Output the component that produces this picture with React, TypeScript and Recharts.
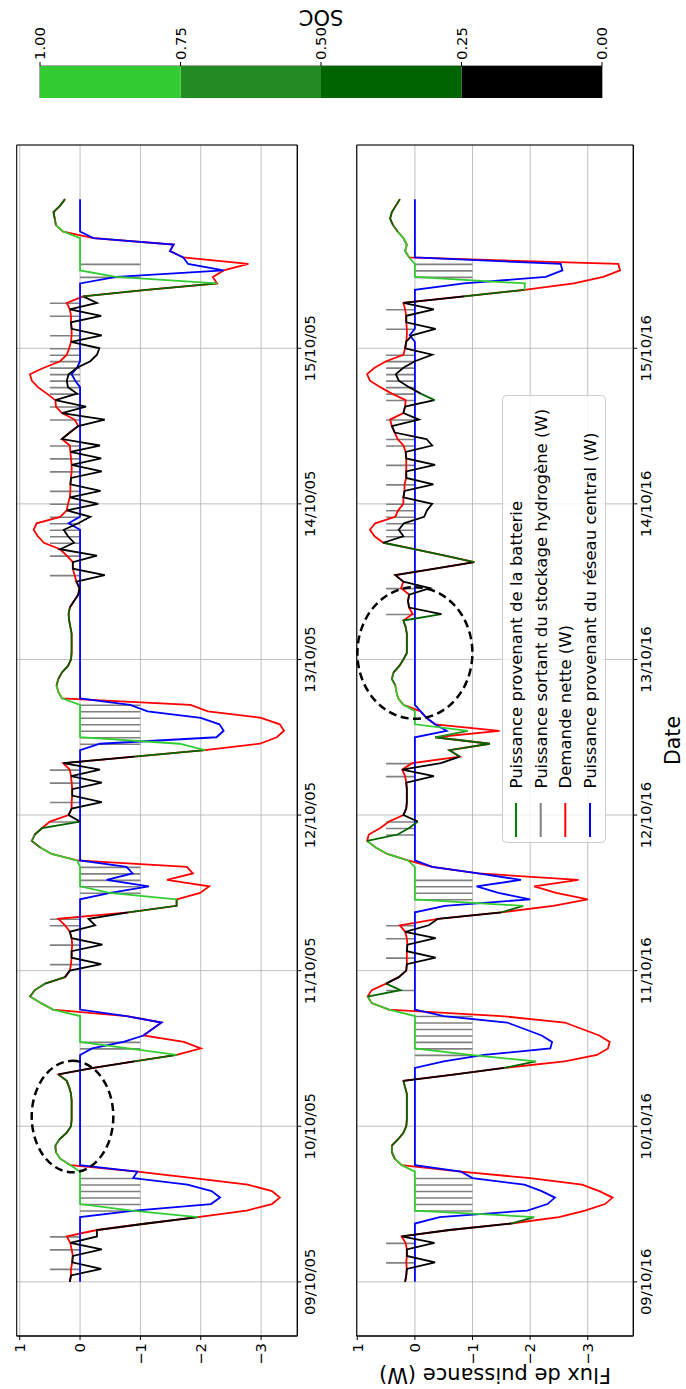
import React from "react";
import {
  Bar,
  BarChart,
  CartesianGrid,
  ComposedChart,
  Label,
  Legend,
  Line,
  ReferenceArea,
  ReferenceDot,
  XAxis,
  YAxis,
} from "recharts";

// Tick labels
const DATES_05 = ["09/10/05", "10/10/05", "11/10/05", "12/10/05", "13/10/05", "14/10/05", "15/10/05"];
const DATES_16 = ["09/10/16", "10/10/16", "11/10/16", "12/10/16", "13/10/16", "14/10/16", "15/10/16"];
const DAY_TICKS = [0, 24, 48, 72, 96, 120, 144];
const POWER_TICKS = [-3, -2, -1, 0, 1];
const SOC_TICKS = [0, 0.25, 0.5, 0.75, 1];

// Legend
const LEGEND_LABELS = [
  "Puissance provenant de la batterie",
  "Puissance sortant du stockage hydrogène (W)",
  "Demande nette (W)",
  "Puissance provenant du réseau central (W)",
];
const LEGEND_COLORS = ["#008000", "#808080", "#ff0000", "#0000ff"];

// SOC classes: <0.25, <0.5, <0.75, >=0.75
const SOC_COLORS = ["#000000", "#006400", "#228B22", "#32CD32"];
const SOC_BANDS = [0.25, 0.25, 0.25, 0.25];

// ---- 2005, hourly from 09/10 00:00 (one day per line) ----
const RED_05 = [
  0.17, 0.15, 0.15, 0.13, 0.12, 0.14, 0.16, 0.22, -0.28, -1.1, -1.95, -2.76, -3.18, -3.31, -3.18, -2.78, -1.88, -0.95, 0.16, 0.33, 0.4, 0.41, 0.34, 0.22,
  0.15, 0.14, 0.14, 0.14, 0.14, 0.15, 0.18, 0.22, 0.36, -0.22, -0.9, -1.6, -2.0, -1.72, -1.05, -1.2, -1.35, -0.77, 0.45, 0.65, 0.83, 0.75, 0.58, 0.25,
  0.17, 0.15, 0.14, 0.14, 0.13, 0.14, 0.17, 0.25, 0.36, -0.8, -1.6, -1.6, -1.99, -2.14, -1.44, -1.87, -1.77, 0.05, 0.47, 0.66, 0.8, 0.75, 0.63, 0.5,
  0.19, 0.14, 0.14, 0.13, 0.13, 0.14, 0.15, 0.17, 0.28, -0.9, -2.07, -2.98, -3.26, -3.38, -3.31, -3.0, -2.12, -1.83, 0.3, 0.36, 0.39, 0.36, 0.3, 0.2,
  0.15, 0.14, 0.14, 0.14, 0.14, 0.16, 0.18, 0.19, 0.17, 0.1, 0.03, 0.01, 0.06, 0.09, 0.12, 0.12, 0.22, 0.33, 0.6, 0.7, 0.77, 0.72, 0.33, 0.22,
  0.2, 0.17, 0.16, 0.16, 0.15, 0.14, 0.14, 0.15, 0.16, 0.17, 0.3, 0.17, 0.03, 0.09, 0.3, 0.4, 0.41, 0.55, 0.7, 0.8, 0.83, 0.6, 0.33, 0.22,
  0.18, 0.15, 0.14, 0.14, 0.15, 0.15, 0.17, 0.22, -0.05, -1.1, -2.27, -2.2, -2.38, -2.79, -1.71, -1.49, -1.55, -0.22, 0.28, 0.4, 0.42, 0.44, 0.33, 0.25,
];
const BLUE_05 = [
  0, 0, 0, 0, 0, 0, 0, 0, 0, 0, 0, -0.9, -2.17, -2.32, -2.18, -1.78, -0.88, -0.95, 0, 0, 0, 0, 0, 0,
  0, 0, 0, 0, 0, 0, 0, 0, 0, 0, 0, 0, -0.2, -0.72, -1.05, -1.2, -1.35, -0.77, 0, 0, 0, 0, 0, 0,
  0, 0, 0, 0, 0, 0, 0, 0, 0, 0, 0, 0, -0.5, -1.14, -0.44, -0.87, -0.77, 0, 0, 0, 0, 0, 0, 0,
  0, 0, 0, 0, 0, 0, 0, 0, 0, 0, 0, -0.33, -2.26, -2.38, -2.31, -2.0, -1.12, -0.83, 0, 0, 0, 0, 0, 0,
  0, 0, 0, 0, 0, 0, 0, 0, 0, 0, 0, 0, 0, 0, 0, 0, 0, 0, 0, 0, 0, 0.19, 0, 0,
  0, 0, 0, 0, 0, 0, 0, 0, 0, 0, 0, 0, 0, 0, 0, 0, 0, 0, 0, 0.08, 0.14, 0.05, 0, 0,
  0, 0, 0, 0, 0, 0, 0, 0, 0, 0, 0, -0.6, -2.38, -1.79, -1.71, -1.49, -1.55, -0.22, 0, 0, 0, 0, 0, 0,
];
const H2_05 = [
  0, 0, 0.5, 0, 0, 0.5, 0, 0.5, 0, 0, 0, -1, -1, -1, -1, -1, -1, 0, 0, 0, 0, 0, 0, 0,
  0, 0, 0, 0, 0, 0, 0, 0, 0, 0, 0, 0, -1, -1, 0, 0, 0, 0, 0, 0, 0, 0, 0, 0,
  0, 0.5, 0, 0, 0.5, 0, 0, 0.5, 0.5, 0, 0, 0, -1, -1, -1, -1, -1, 0, 0, 0, 0, 0, 0, 0.5,
  0, 0, 0.5, 0, 0, 0.5, 0, 0.5, 0, 0, 0, -1, -1, -1, -1, -1, -1, -1, 0, 0, 0, 0, 0, 0,
  0, 0, 0, 0, 0, 0, 0, 0, 0, 0, 0, 0, 0, 0.5, 0, 0, 0.5, 0, 0.5, 0.5, 0.5, 0.5, 0.5, 0,
  0.5, 0, 0.5, 0, 0, 0.5, 0, 0.5, 0, 0.5, 0, 0, 0, 0.5, 0, 0.5, 0, 0.5, 0.5, 0.5, 0.5, 0.5, 0.5, 0.5,
  0.5, 0, 0.5, 0, 0, 0.5, 0, 0.5, 0, 0, 0, -1, 0, -1, 0, 0, 0, 0, 0, 0, 0, 0, 0, 0,
];
const BAT_05 = [
  0.17, 0.15, -0.35, 0.13, 0.12, -0.36, 0.16, -0.28, -0.28, -1.1, -1.95, -0.86, 0, 0, 0, 0, 0, 0, 0.16, 0.33, 0.4, 0.41, 0.34, 0.22,
  0.15, 0.14, 0.14, 0.14, 0.14, 0.15, 0.18, 0.22, 0.36, -0.22, -0.9, -1.6, -0.8, 0, 0, 0, 0, 0, 0.45, 0.65, 0.83, 0.75, 0.58, 0.25,
  0.17, -0.35, 0.14, 0.14, -0.37, 0.14, 0.17, -0.25, -0.14, -0.8, -1.6, -1.6, -0.49, 0, 0, 0, 0, 0.05, 0.47, 0.66, 0.8, 0.75, 0.63, 0,
  0.19, 0.14, -0.36, 0.13, 0.13, -0.36, 0.15, -0.33, 0.28, -0.9, -2.07, -1.65, 0, 0, 0, 0, 0, 0, 0.3, 0.36, 0.39, 0.36, 0.3, 0.2,
  0.15, 0.14, 0.14, 0.14, 0.14, 0.16, 0.18, 0.19, 0.17, 0.1, 0.03, 0.01, 0.06, -0.41, 0.12, 0.12, -0.28, 0.33, 0.1, 0.2, 0.27, 0.03, -0.17, 0.22,
  -0.3, 0.17, -0.34, 0.16, 0.15, -0.36, 0.14, -0.35, 0.16, -0.33, 0.3, 0.17, 0.03, -0.41, 0.3, -0.1, 0.41, 0.05, 0.2, 0.22, 0.19, 0.05, -0.17, -0.28,
  -0.32, 0.15, -0.36, 0.14, 0.15, -0.35, 0.17, -0.28, -0.05, -1.1, -2.27, -0.6, 0, 0, 0, 0, 0, 0, 0.28, 0.4, 0.42, 0.44, 0.33, 0.25,
];
const SOC_05 = [
  0.1, 0.1, 0.1, 0.1, 0.1, 0.1, 0.1, 0.1, 0.1, 0.1, 0.9, 0.9, 0.9, 0.9, 0.9, 0.9, 0.9, 0.9, 0.9, 0.8, 0.65, 0.65, 0.4, 0.4,
  0.4, 0.4, 0.4, 0.4, 0.4, 0.4, 0.4, 0.4, 0.15, 0.15, 0.4, 0.9, 0.9, 0.9, 0.9, 0.9, 0.9, 0.9, 0.9, 0.9, 0.65, 0.65, 0.4, 0.15,
  0.15, 0.15, 0.15, 0.15, 0.15, 0.15, 0.15, 0.15, 0.15, 0.4, 0.4, 0.9, 0.9, 0.9, 0.9, 0.9, 0.9, 0.9, 0.9, 0.65, 0.65, 0.4, 0.4, 0.15,
  0.15, 0.15, 0.15, 0.15, 0.15, 0.15, 0.15, 0.15, 0.15, 0.4, 0.9, 0.9, 0.9, 0.9, 0.9, 0.9, 0.9, 0.9, 0.9, 0.9, 0.65, 0.4, 0.4, 0.4,
  0.4, 0.4, 0.4, 0.4, 0.4, 0.4, 0.4, 0.4, 0.15, 0.15, 0.15, 0.15, 0.15, 0.15, 0.15, 0.15, 0.15, 0.15, 0.15, 0.15, 0.15, 0.15, 0.15, 0.15,
  0.15, 0.15, 0.15, 0.15, 0.15, 0.15, 0.15, 0.15, 0.15, 0.15, 0.15, 0.15, 0.15, 0.15, 0.15, 0.15, 0.15, 0.15, 0.15, 0.15, 0.15, 0.15, 0.15, 0.15,
  0.15, 0.15, 0.15, 0.15, 0.15, 0.15, 0.15, 0.15, 0.4, 0.4, 0.9, 0.9, 0.9, 0.9, 0.9, 0.9, 0.9, 0.9, 0.9, 0.65, 0.4, 0.4, 0.4, 0.4,
];

// ---- 2016 ----
const RED_16 = [
  0.17, 0.15, 0.14, 0.15, 0.14, 0.14, 0.16, 0.23, -0.6, -1.67, -2.5, -2.95, -3.3, -3.43, -3.2, -2.9, -2.0, -0.8, 0.23, 0.35, 0.4, 0.4, 0.29, 0.2,
  0.15, 0.14, 0.14, 0.14, 0.14, 0.14, 0.17, 0.2, -0.7, -1.55, -2.6, -3.16, -3.35, -3.38, -3.2, -2.9, -2.6, -1.5, 0.45, 0.75, 0.82, 0.75, 0.5, 0.28,
  0.15, 0.14, 0.14, 0.14, 0.13, 0.14, 0.17, 0.26, -0.4, -1.5, -2.4, -3.0, -2.45, -2.07, -2.84, -1.1, -0.3, 0.12, 0.48, 0.68, 0.83, 0.8, 0.6, 0.45,
  0.2, 0.15, 0.14, 0.14, 0.14, 0.15, 0.17, 0.22, 0.05, -0.78, -0.6, -1.3, -0.35, -1.47, -0.35, -0.2, -0.1, 0.2, 0.29, 0.32, 0.34, 0.4, 0.37, 0.27,
  0.2, 0.14, 0.14, 0.14, 0.14, 0.16, 0.2, 0.04, 0.1, 0.12, 0.1, 0.24, 0.2, 0.34, -0.35, -1.03, -0.52, 0.01, 0.55, 0.7, 0.78, 0.69, 0.34, 0.29,
  0.2, 0.2, 0.18, 0.18, 0.15, 0.15, 0.15, 0.15, 0.16, 0.2, 0.3, 0.35, 0.4, 0.43, 0.2, 0.17, 0.16, 0.4, 0.6, 0.78, 0.83, 0.7, 0.5, 0.2,
  0.17, 0.15, 0.14, 0.14, 0.15, 0.15, 0.17, 0.2, -0.85, -1.9, -2.76, -3.27, -3.56, -3.53, 0.1, 0.17, 0.14, 0.2, 0.3, 0.38, 0.43, 0.4, 0.33, 0.26,
];
const BLUE_16 = [
  0, 0, 0, 0, 0, 0, 0, 0, 0, 0, -0.43, -1.95, -2.3, -2.43, -2.2, -1.9, -1.0, -0.8, 0, 0, 0, 0, 0, 0,
  0, 0, 0, 0, 0, 0, 0, 0, 0, 0, -0.5, -1.2, -2.35, -2.38, -2.2, -1.9, -1.6, -0.5, 0, 0, 0, 0, 0, 0,
  0, 0, 0, 0, 0, 0, 0, 0, 0, 0, -0.52, -2.0, -1.45, -1.07, -1.84, -1.1, -0.3, 0, 0, 0, 0, 0, 0, 0,
  0, 0, 0, 0, 0, 0, 0, 0, 0, 0, 0, 0, 0, -0.55, -0.35, -0.2, -0.1, 0, 0, 0, 0, 0, 0, 0,
  0, 0, 0, 0, 0, 0, 0, 0, 0, 0, 0, 0, 0, 0, 0, 0, 0, 0, 0, 0, 0, 0, 0, 0,
  0, 0, 0, 0, 0, 0, 0, 0, 0, 0, 0, 0, 0, 0, 0, 0, 0, 0, 0, 0, 0, 0, 0, 0,
  0, 0, 0.09, 0, 0, 0, 0, 0, 0, 0, -0.85, -2.27, -2.56, -2.53, 0, 0, 0, 0, 0, 0, 0, 0, 0, 0,
];
const H2_16 = [
  0, 0, 0, 0.5, 0, 0, 0.5, 0, 0, 0, 0, -1, -1, -1, -1, -1, -1, 0, 0, 0, 0, 0, 0, 0,
  0, 0, 0, 0, 0, 0, 0, 0, 0, 0, 0, -1, -1, -1, -1, -1, -1, -1, 0, 0, 0, 0.5, 0, 0,
  0, 0, 0.5, 0, 0, 0.5, 0, 0.5, 0, 0, 0, -1, -1, -1, -1, 0, 0, 0, 0, 0, 0, 0.5, 0.5, 0.5,
  0, 0, 0, 0, 0, 0, 0.5, 0, 0.5, 0, 0, 0, 0, 0, 0, 0, 0, 0, 0, 0, 0, 0, 0, 0,
  0, 0, 0, 0, 0, 0, 0, 0.5, 0, 0, 0, 0.5, 0, 0, 0, 0, 0, 0, 0, 0.5, 0.5, 0.5, 0.5, 0.5,
  0.5, 0, 0, 0.5, 0, 0, 0.5, 0, 0, 0.5, 0.5, 0, 0, 0.5, 0, 0, 0.5, 0.5, 0.5, 0.5, 0.5, 0.5, 0.5, 0.5,
  0, 0, 0, 0.5, 0, 0, 0.5, 0, 0, 0, 0, -1, -1, -1, 0, 0, 0, 0, 0, 0, 0, 0, 0, 0,
];
const BAT_16 = [
  0.17, 0.15, 0.14, -0.35, 0.14, 0.14, -0.34, 0.23, -0.6, -1.67, -2.07, 0, 0, 0, 0, 0, 0, 0, 0.23, 0.35, 0.4, 0.4, 0.29, 0.2,
  0.15, 0.14, 0.14, 0.14, 0.14, 0.14, 0.17, 0.2, -0.7, -1.55, -2.1, -0.96, 0, 0, 0, 0, 0, 0, 0.45, 0.75, 0.82, 0.25, 0.5, 0.28,
  0.15, 0.14, -0.36, 0.14, 0.13, -0.36, 0.17, -0.24, -0.4, -1.5, -1.88, 0, 0, 0, 0, 0, 0, 0.12, 0.48, 0.68, 0.83, 0.3, 0.1, -0.05,
  0.2, 0.15, 0.14, 0.14, 0.14, 0.15, -0.33, 0.22, -0.45, -0.78, -0.6, -1.3, -0.35, -0.92, 0, 0, 0, 0.2, 0.29, 0.32, 0.34, 0.4, 0.37, 0.27,
  0.2, 0.14, 0.14, 0.14, 0.14, 0.16, 0.2, -0.46, 0.1, 0.12, 0.1, -0.26, 0.2, 0.34, -0.35, -1.03, -0.52, 0.01, 0.55, 0.2, 0.28, 0.19, -0.16, -0.21,
  -0.3, 0.2, 0.18, -0.32, 0.15, 0.15, -0.35, 0.15, 0.16, -0.3, -0.2, 0.35, 0.4, -0.07, 0.2, 0.17, -0.34, -0.1, 0.1, 0.28, 0.33, 0.2, 0, -0.3,
  0.17, 0.15, 0.05, -0.36, 0.15, 0.15, -0.33, 0.2, -0.85, -1.9, -1.91, 0, 0, 0, 0.1, 0.17, 0.14, 0.2, 0.3, 0.38, 0.43, 0.4, 0.33, 0.26,
];
const SOC_16 = [
  0.15, 0.15, 0.15, 0.15, 0.15, 0.15, 0.15, 0.15, 0.15, 0.4, 0.9, 0.9, 0.9, 0.9, 0.9, 0.9, 0.9, 0.9, 0.9, 0.65, 0.65, 0.4, 0.4, 0.4,
  0.4, 0.4, 0.4, 0.4, 0.4, 0.4, 0.4, 0.15, 0.15, 0.4, 0.9, 0.9, 0.9, 0.9, 0.9, 0.9, 0.9, 0.9, 0.9, 0.9, 0.4, 0.4, 0.15, 0.15,
  0.15, 0.15, 0.15, 0.15, 0.15, 0.15, 0.15, 0.15, 0.15, 0.4, 0.9, 0.9, 0.9, 0.9, 0.9, 0.9, 0.9, 0.9, 0.9, 0.9, 0.4, 0.4, 0.4, 0.15,
  0.15, 0.15, 0.15, 0.15, 0.15, 0.15, 0.15, 0.15, 0.15, 0.4, 0.4, 0.4, 0.65, 0.9, 0.9, 0.9, 0.9, 0.9, 0.9, 0.9, 0.65, 0.65, 0.4, 0.4,
  0.4, 0.4, 0.4, 0.4, 0.4, 0.4, 0.4, 0.15, 0.15, 0.15, 0.15, 0.15, 0.15, 0.15, 0.15, 0.4, 0.4, 0.4, 0.15, 0.15, 0.15, 0.15, 0.15, 0.15,
  0.15, 0.15, 0.15, 0.15, 0.15, 0.15, 0.15, 0.15, 0.15, 0.15, 0.15, 0.15, 0.15, 0.15, 0.15, 0.15, 0.4, 0.15, 0.15, 0.15, 0.15, 0.15, 0.15, 0.15,
  0.15, 0.15, 0.15, 0.15, 0.15, 0.15, 0.15, 0.15, 0.4, 0.9, 0.9, 0.9, 0.9, 0.9, 0.9, 0.9, 0.9, 0.9, 0.65, 0.4, 0.4, 0.4, 0.4, 0.4,
];

// Annotation circles (centre in hours / W)
const CIRCLE_05 = { h: 25.5, v: 0.125 };
const CIRCLE_16 = { h: 97, v: 0 };

// Layout (figure drawn landscape, then turned a quarter turn)
const FIG_W = 1389;
const FIG_H = 686;
const X_DOMAIN = [-8.35, 175.35];
const FONT = "DejaVu Sans";
const TICK = { fontSize: 14.8, fill: "#000", fontFamily: FONT };

function socClass(s: number) {
  return s < 0.25 ? 0 : s < 0.5 ? 1 : s < 0.75 ? 2 : 3;
}

// Split the battery trace into runs of one SOC colour (segment i -> i+1 coloured by soc[i]).
function buildPanel(red: number[], blue: number[], h2: number[], bat: number[], soc: number[]) {
  const runs: { key: string; cls: number; start: number; end: number }[] = [];
  for (let i = 0; i < bat.length - 1; i++) {
    const cls = socClass(soc[i]);
    const last = runs[runs.length - 1];
    if (last && last.cls === cls && last.end === i) last.end = i + 1;
    else runs.push({ key: `bat${runs.length}`, cls, start: i, end: i + 1 });
  }
  const rows = red.map((r, i) => {
    const row: any = { h: i, red: r, blue: blue[i], h2: h2[i] === 0 ? null : h2[i] };
    runs.forEach((run) => {
      row[run.key] = i >= run.start && i <= run.end ? bat[i] : null;
    });
    return row;
  });
  return { rows, runs };
}

const PANEL_05 = buildPanel(RED_05, BLUE_05, H2_05, BAT_05, SOC_05);
const PANEL_16 = buildPanel(RED_16, BLUE_16, H2_16, BAT_16, SOC_16);

const fmtPower = (v: number) => (v < 0 ? `\u2212${Math.abs(v)}` : `${v}`);

function LegendBox() {
  const rowY = [14, 38.7, 63.3, 88];
  return (
    <svg width={448} height={104} style={{ display: "block" }}>
      <rect x={0.5} y={0.5} width={447} height={103} rx={4} fill="#fff" fillOpacity={0.8} stroke="#cccccc" />
      {LEGEND_LABELS.map((label, i) => (
        <g key={label}>
          <line x1={6} x2={40} y1={rowY[i]} y2={rowY[i]} stroke={LEGEND_COLORS[i]} strokeWidth={2} />
          <text x={54.5} y={rowY[i] + 6} fontSize={16.5} fontFamily={FONT} fill="#000">
            {label}
          </text>
        </g>
      ))}
    </svg>
  );
}

function PowerPanel({ panel, dates, yDomain, height, plotTop, plotBottom, circle, rx, ry, bottom }: any) {
  const { rows, runs } = panel;
  return (
    <ComposedChart
      width={FIG_W}
      height={height}
      data={rows}
      margin={{ top: plotTop, right: 145, bottom: 0, left: 0 }}
    >
      <CartesianGrid stroke="#b0b0b0" strokeWidth={0.8} />
      <XAxis
        dataKey="h"
        type="number"
        domain={X_DOMAIN}
        allowDataOverflow
        ticks={DAY_TICKS}
        interval={0}
        height={height - plotBottom}
        tickFormatter={(v: number) => dates[Math.round(v / 24)]}
        tick={TICK}
        tickSize={4}
        tickMargin={3}
        axisLine={{ stroke: "#000" }}
        tickLine={{ stroke: "#000" }}
      >
        {bottom && <Label value="Date" position="insideBottom" offset={6} fill="#000" fontSize={20.5} fontFamily={FONT} />}
      </XAxis>
      <YAxis
        type="number"
        domain={yDomain}
        allowDataOverflow
        ticks={POWER_TICKS}
        interval={0}
        width={53}
        tickFormatter={fmtPower}
        tick={TICK}
        tickSize={4}
        tickMargin={3}
        axisLine={{ stroke: "#000" }}
        tickLine={{ stroke: "#000" }}
      >
        {bottom && (
          <Label
            value="Flux de puissance (W)"
            angle={-90}
            position="insideLeft"
            offset={14}
            fill="#000"
            fontSize={21}
            fontFamily={FONT}
            style={{ textAnchor: "middle" }}
          />
        )}
      </YAxis>
      <Bar dataKey="h2" fill="#808080" barSize={1.6} isAnimationActive={false} legendType="none" />
      <Line dataKey="red" stroke="#ff0000" strokeWidth={1.8} dot={false} activeDot={false} isAnimationActive={false} legendType="none" />
      <Line dataKey="blue" stroke="#0000ff" strokeWidth={1.8} dot={false} activeDot={false} isAnimationActive={false} legendType="none" />
      {runs.map((run: any) => (
        <Line
          key={run.key}
          dataKey={run.key}
          stroke={SOC_COLORS[run.cls]}
          strokeWidth={1.8}
          dot={false}
          activeDot={false}
          connectNulls={false}
          isAnimationActive={false}
          legendType="none"
        />
      ))}
      <ReferenceDot
        x={circle.h}
        y={circle.v}
        shape={(p: any) => (
          <ellipse cx={p.cx} cy={p.cy} rx={rx} ry={ry} fill="none" stroke="#000" strokeWidth={2.5} strokeDasharray="8 4.5" />
        )}
      />
      <ReferenceArea x1={X_DOMAIN[0]} x2={X_DOMAIN[1]} y1={yDomain[0]} y2={yDomain[1]} fill="none" stroke="#000" strokeWidth={1} />
      {bottom && (
        <Legend
          layout="vertical"
          align="center"
          verticalAlign="middle"
          wrapperStyle={{ left: 546, top: 162, width: 448, height: 104 }}
          content={() => <LegendBox />}
        />
      )}
    </ComposedChart>
  );
}

function SocBar() {
  const row: any = { name: "SOC" };
  SOC_BANDS.forEach((b, i) => (row[`s${i}`] = b));
  return (
    <BarChart width={98} height={FIG_H} data={[row]} margin={{ top: 40, right: 0, bottom: 84, left: 0 }} barCategoryGap={0}>
      <XAxis dataKey="name" hide />
      <YAxis
        orientation="right"
        type="number"
        domain={[0, 1]}
        ticks={SOC_TICKS}
        interval={0}
        width={66}
        tickFormatter={(v: number) => v.toFixed(2)}
        tick={TICK}
        tickSize={4}
        tickMargin={2}
        axisLine={false}
        tickLine={{ stroke: "#000" }}
      >
        <Label
          value="SOC"
          angle={-90}
          position="insideRight"
          offset={17.5}
          fill="#000"
          fontSize={21}
          fontFamily={FONT}
          style={{ textAnchor: "middle" }}
        />
      </YAxis>
      {SOC_COLORS.map((c, i) => (
        <Bar key={c} dataKey={`s${i}`} stackId="soc" fill={c} isAnimationActive={false} />
      ))}
      <ReferenceArea y1={0} y2={1} fill="none" stroke="#222" strokeWidth={0.8} />
    </BarChart>
  );
}

export default function App() {
  return (
    <div
      style={{
        position: "absolute",
        left: 0,
        top: 0,
        width: FIG_H,
        height: FIG_W,
        overflow: "hidden",
        background: "#fff",
        fontFamily: FONT,
      }}
    >
      <div
        style={{
          position: "absolute",
          left: 0,
          top: 0,
          width: FIG_W,
          height: FIG_H,
          transformOrigin: "0 0",
          transform: `translate(0px, ${FIG_W}px) rotate(-90deg)`,
        }}
      >
        <div style={{ position: "absolute", left: 0, top: 0 }}>
          <PowerPanel
            panel={PANEL_05}
            dates={DATES_05}
            yDomain={[-3.6, 1.05]}
            height={340}
            plotTop={16.7}
            plotBottom={297.3}
            circle={CIRCLE_05}
            rx={55.7}
            ry={40.8}
            bottom={false}
          />
        </div>
        <div style={{ position: "absolute", left: 0, top: 340 }}>
          <PowerPanel
            panel={PANEL_16}
            dates={DATES_16}
            yDomain={[-3.79, 1.01]}
            height={346}
            plotTop={16.7}
            plotBottom={293.3}
            circle={CIRCLE_16}
            rx={65.8}
            ry={57.5}
            bottom
          />
        </div>
        <div style={{ position: "absolute", left: 1291, top: 0 }}>
          <SocBar />
        </div>
      </div>
    </div>
  );
}
